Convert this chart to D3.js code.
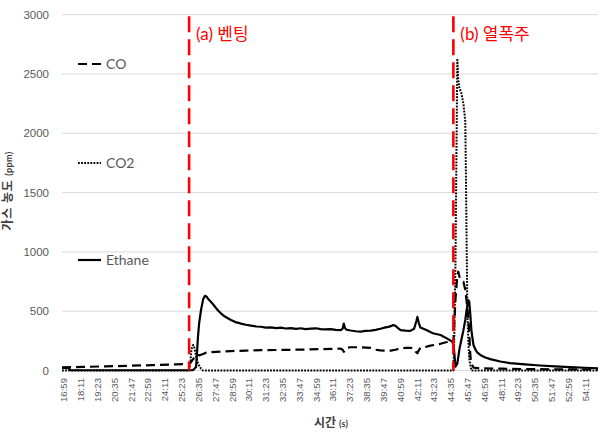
<!DOCTYPE html>
<html lang="ko">
<head>
<meta charset="utf-8">
<title>가스 농도</title>
<script src="https://d3js.org/d3.v7.min.js"></script>
<style>
  body { margin: 0; background: #fff; }
  svg { display: block; font-family: Lato, "Noto Sans CJK KR", sans-serif; }
  .grid line { stroke: #d9d9d9; stroke-width: 1; }
  .yAxis text { fill: #595959; font-size: 11.5px; }
  .xAxis text { fill: #595959; font-size: 9.6px; }
</style>
</head>
<body>
<div class="chart"></div>
<script>
// data: [time in seconds (mm*60+ss), ppm]
var coData = [[1013,27],[1100,30],[1200,35],[1300,40],[1400,45],[1500,52],[1548,55],[1557,58],[1565,70],[1574,95],
  [1587,125],[1595,132],[1602,128],[1617,140],[1629,150],[1651,155],[1693,160],[1736,164],[1800,168],[1864,172],
  [1950,173],[2035,176],[2120,180],[2206,184],[2214,175],[2219,158],[2224,170],[2231,190],[2248,196],[2291,196],
  [2334,190],[2355,175],[2376,170],[2398,167],[2420,168],[2440,175],[2462,187],[2483,190],[2504,192],[2520,185],
  [2526,160],[2534,145],[2540,170],[2547,192],[2568,198],[2590,210],[2633,225],[2660,240],[2684,255],[2688,240],
  [2692,400],[2697,600],[2705,800],[2709,833],[2714,790],[2722,760],[2731,749],[2739,680],[2744,594],[2752,450],
  [2756,316],[2761,114],[2765,60],[2774,25],[2803,18],[2900,15],[3000,12],[3100,10],[3307,8]];

var co2Data = [[1013,0],[1557,0],[1562,60],[1567,180],[1574,215],[1580,190],[1587,120],[1595,60],[1608,15],[1617,0],
  [2688,0],[2692,300],[2697,900],[2701,1800],[2705,2620],[2709,2450],[2714,2380],[2722,2340],[2731,2250],[2739,2100],
  [2742,1600],[2744,1200],[2748,500],[2752,250],[2756,100],[2761,40],[2765,0],[3307,0]];

var ethaneData = [[1013,22],[1040,20],[1050,3],[1200,2],[1400,2],[1550,2],[1574,4],[1587,30],[1595,285],[1600,400],
  [1608,510],[1617,600],[1625,630],[1632,622],[1640,600],[1651,578],[1662,552],[1672,527],[1683,502],[1693,482],
  [1710,455],[1723,440],[1736,426],[1755,408],[1768,402],[1779,395],[1800,386],[1822,378],[1845,371],[1864,369],
  [1885,362],[1907,364],[1930,357],[1950,361],[1970,354],[1992,358],[2015,351],[2035,356],[2055,349],[2078,353],
  [2100,356],[2120,349],[2140,346],[2163,349],[2185,343],[2206,341],[2214,352],[2219,396],[2224,358],[2231,344],
  [2248,337],[2270,331],[2291,327],[2310,334],[2334,336],[2355,342],[2376,352],[2398,364],[2410,368],[2420,374],
  [2430,383],[2440,377],[2450,360],[2462,341],[2483,337],[2504,334],[2520,352],[2530,420],[2534,452],[2540,402],
  [2547,362],[2575,340],[2600,314],[2633,299],[2660,271],[2684,243],[2690,190],[2697,32],[2705,60],[2714,180],
  [2722,257],[2731,340],[2739,426],[2744,500],[2748,552],[2752,594],[2756,580],[2761,460],[2765,341],[2774,215],
  [2782,178],[2790,152],[2803,131],[2825,110],[2846,96],[2889,76],[2931,62],[2995,51],[3059,42],[3123,34],
  [3187,28],[3251,23],[3307,19]];

var seriesNames = ["CO", "CO2", "Ethane"];
var xTickLabels = ["16:59","18:11","19:23","20:35","21:47","22:59","24:11","25:23","26:35","27:47","28:59",
  "30:11","31:23","32:35","33:47","34:59","36:11","37:23","38:35","39:47","40:59","42:11","43:23","44:35",
  "45:47","46:59","48:11","49:23","50:35","51:47","52:59","54:11"];
var yTicks = [0, 500, 1000, 1500, 2000, 2500, 3000];
var eventTimes = [1557, 2688];
var eventLabels = ["(a) 벤팅", "(b) 열폭주"];

var width = 599, height = 432;
var plot = {left: 62, right: 598, top: 14.7, bottom: 370.5};

function toSec(s) {
  var p = s.split(":");
  return +p[0] * 60 + +p[1];
}

var svg = d3.select(".chart").append("svg")
  .attr("width", width)
  .attr("height", height);

var x = d3.scaleLinear().domain([1013, 3307]).range([plot.left, plot.right]);
var y = d3.scaleLinear().domain([0, 3000]).range([plot.bottom, plot.top]);

// gridlines
svg.append("g").attr("class", "grid")
  .selectAll("line").data(yTicks).enter().append("line")
  .attr("x1", plot.left).attr("x2", plot.right)
  .attr("y1", function(d) { return y(d); })
  .attr("y2", function(d) { return y(d); });

// y axis labels
var yAxis = d3.axisLeft(y).tickValues(yTicks).tickFormat(d3.format("d")).tickSize(0).tickPadding(13);
svg.append("g").attr("class", "yAxis")
  .attr("transform", "translate(" + plot.left + ",0)")
  .call(yAxis)
  .call(function(g) { g.select(".domain").remove(); });

// x axis labels (rotated)
var xAxis = d3.axisBottom(x)
  .tickValues(xTickLabels.map(toSec))
  .tickFormat(function(d, i) { return xTickLabels[i]; })
  .tickSize(0);
svg.append("g").attr("class", "xAxis")
  .attr("transform", "translate(0," + plot.bottom + ")")
  .call(xAxis)
  .call(function(g) { g.select(".domain").remove(); })
  .selectAll("text")
  .attr("transform", "rotate(-90)")
  .attr("text-anchor", "end")
  .attr("x", -7.5)
  .attr("y", 0)
  .attr("dy", "0.35em");

// series
var line = d3.line()
  .x(function(d) { return x(d[0]); })
  .y(function(d) { return y(d[1]); });

var styles = [
  {dash: "9,5", w: 2.2},
  {dash: "1.8,1.3", w: 2},
  {dash: null, w: 2.2}
];
var allData = [coData, co2Data, ethaneData];

svg.selectAll("path.series")
  .data(allData)
  .enter().append("path")
  .attr("class", "series")
  .attr("fill", "none")
  .attr("stroke", "#000")
  .attr("stroke-width", function(d, i) { return styles[i].w; })
  .attr("stroke-dasharray", function(d, i) { return styles[i].dash; })
  .attr("stroke-linejoin", "round")
  .attr("d", line);

// event markers
svg.selectAll("line.event")
  .data(eventTimes)
  .enter().append("line")
  .attr("class", "event")
  .attr("x1", function(d) { return x(d); })
  .attr("x2", function(d) { return x(d); })
  .attr("y1", y(3000) + 1.5)
  .attr("y2", y(0))
  .attr("stroke", "#ff0000")
  .attr("stroke-width", 2.6)
  .attr("stroke-dasharray", "16,7");

svg.selectAll("text.event")
  .data(eventTimes)
  .enter().append("text")
  .attr("class", "event")
  .attr("x", function(d) { return x(d) + 7; })
  .attr("y", 40)
  .attr("fill", "#ff0000")
  .style("font-size", "17px")
  .text(function(d, i) { return eventLabels[i]; });

// legend
var legendY = [64, 163, 260];
var legend = svg.selectAll("g.legend")
  .data(seriesNames)
  .enter().append("g")
  .attr("class", "legend")
  .attr("transform", function(d, i) { return "translate(78," + legendY[i] + ")"; });

legend.append("line")
  .attr("x1", 0).attr("x2", 23)
  .attr("stroke", "#000")
  .attr("stroke-width", function(d, i) { return styles[i].w; })
  .attr("stroke-dasharray", function(d, i) { return styles[i].dash; });

legend.append("text")
  .attr("x", 28)
  .attr("dy", "0.36em")
  .attr("fill", "#595959")
  .style("font-size", "14px")
  .text(function(d) { return d; });

// axis titles
var yTitle = svg.append("text")
  .attr("transform", "translate(8,191) rotate(-90)")
  .attr("text-anchor", "middle")
  .attr("dy", "0.35em")
  .attr("fill", "#404040")
  .style("font-size", "12px")
  .style("font-weight", "bold")
  .style("letter-spacing", "0.8px");
yTitle.append("tspan").text("가스 농도 ");
yTitle.append("tspan").style("font-size", "9px").style("letter-spacing", "0.3px").text("(ppm)");

var xTitle = svg.append("text")
  .attr("x", 331)
  .attr("y", 427)
  .attr("text-anchor", "middle")
  .attr("fill", "#404040")
  .style("font-size", "12px")
  .style("font-weight", "bold");
xTitle.append("tspan").text("시간 ");
xTitle.append("tspan").style("font-size", "9px").text("(s)");
</script>
</body>
</html>
